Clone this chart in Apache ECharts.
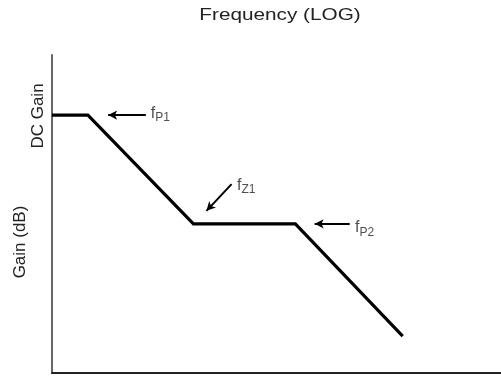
<!DOCTYPE html>
<html>
<head>
<meta charset="utf-8">
<script src="https://cdn.jsdelivr.net/npm/echarts@6/dist/echarts.min.js"></script>
<style>
  html, body { margin: 0; padding: 0; background: #fff; }
  #chart { width: 501px; height: 378px; }
</style>
</head>
<body>
<div id="chart"></div>
<script>
// asymptotic Bode magnitude (arbitrary units: x = log frequency, y = gain)
const logFreq = [0, 0.8, 3.15, 5.42, 7.81]
const gainDb = [81.1, 81.1, 46.9, 46.9, 11.6]

// annotation arrows: tail -> head, and label names
const arrowNames = ['P1', 'Z1', 'P2']
const arrowTail = [[2.09, 81.1], [4.0, 59.4], [6.63, 46.9]]
const arrowHead = [[1.25, 81.1], [3.44, 51.0], [5.85, 46.9]]
const labelPos = [[2.2, 81.6], [4.12, 59.0], [6.75, 45.6]]

const chart = echarts.init(document.getElementById('chart'))

const FONT = '"Liberation Sans", Arial, sans-serif'

const option = {
  animation: false,
  backgroundColor: '#fff',
  grid: { left: 52, right: 0, top: 55, bottom: 5 },
  xAxis: {
    type: 'value',
    min: 0,
    max: 10,
    axisLine: { lineStyle: { color: '#222', width: 2 } },
    axisTick: { show: false },
    axisLabel: { show: false },
    splitLine: { show: false }
  },
  yAxis: {
    type: 'value',
    min: 0,
    max: 100,
    axisLine: { show: true, lineStyle: { color: '#666', width: 2 } },
    axisTick: { show: false },
    axisLabel: { show: false },
    splitLine: { show: false }
  },
  graphic: [
    {
      type: 'text', x: 280, y: 15, scaleX: 1.22,
      style: { text: 'Frequency (LOG)', font: '17px ' + FONT, fill: '#222', align: 'center', verticalAlign: 'middle' }
    },
    {
      type: 'text', rotation: Math.PI / 2, x: 38, y: 116,
      style: { text: 'DC Gain', font: '17px ' + FONT, fill: '#222', align: 'center', verticalAlign: 'middle' }
    },
    {
      type: 'text', rotation: Math.PI / 2, x: 20, y: 242,
      style: { text: 'Gain (dB)', font: '17px ' + FONT, fill: '#222', align: 'center', verticalAlign: 'middle' }
    }
  ],
  series: [
    {
      type: 'line',
      data: logFreq.map((x, i) => [x, gainDb[i]]),
      showSymbol: false,
      lineStyle: { color: '#000', width: 3.2, join: 'miter' },
      silent: true
    },
    {
      type: 'scatter',
      symbolSize: 0,
      data: labelPos.map((p, i) => ({ value: p, name: arrowNames[i] })),
      label: {
        show: true,
        position: 'right',
        distance: 0,
        formatter: p => '{f|f}{s|' + p.name + '}',
        rich: {
          f: { fontFamily: FONT, fontSize: 16, color: '#222' },
          s: { fontFamily: FONT, fontSize: 12, color: '#222', padding: [9, 0, 0, 0] }
        }
      },
      markLine: {
        silent: true,
        symbol: ['none', 'arrow'],
        symbolSize: [7, 9],
        label: { show: false },
        lineStyle: { color: '#000', width: 2, type: 'solid' },
        data: arrowTail.map((t, i) => [{ coord: t }, { coord: arrowHead[i] }])
      }
    }
  ]
}

chart.setOption(option)
</script>
</body>
</html>
